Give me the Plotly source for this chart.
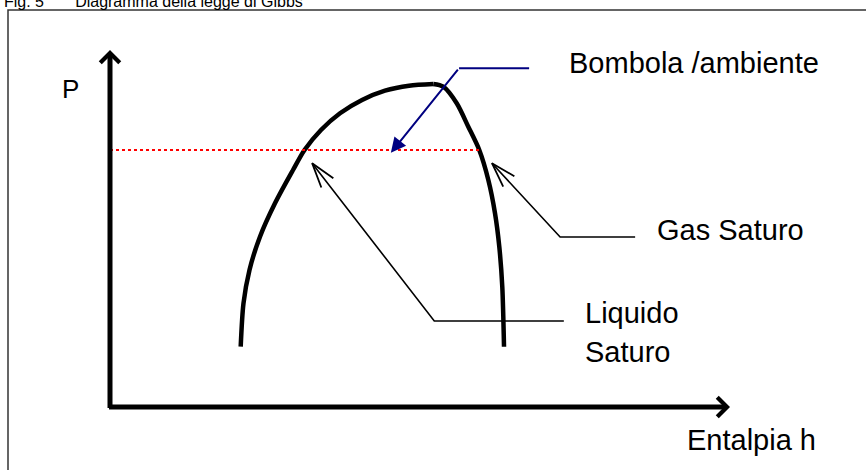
import math
import plotly.graph_objects as go

# ---- data (enthalpy h, pressure P, arbitrary units) ----
# saturated-liquid branch (up to the critical point)
liq_curve_h = [21.08, 21.53, 22.50, 24.19, 26.61, 29.52, 31.37, 34.03, 37.10, 40.65, 44.35, 48.23, 52.15]
liq_curve_p = [16.89, 29.05, 38.38, 47.70, 57.06, 66.39, 71.99, 77.59, 82.27, 86.00, 88.60, 90.00, 90.48]
# saturated-vapour branch (from the critical point)
gas_curve_h = [52.15, 53.76, 55.92, 57.79, 59.56, 61.02, 62.10, 62.79, 63.27, 63.55]
gas_curve_p = [90.48, 89.72, 85.07, 78.51, 71.99, 63.59, 54.26, 44.90, 33.70, 16.89]

tank_h = [0.0, 59.7]
tank_p = [72.0, 72.0]

axis_h_max = 100
axis_p_max = 100

# leader lines: [end, bend, tip]
bombola_h = [67.6, 56.3, 45.3]
bombola_p = [94.9, 94.9, 71.2]
gas_h = [84.7, 72.6, 61.6]
gas_p = [47.6, 47.6, 68.3]
liq_h = [73.2, 52.3, 32.6]
liq_p = [24.1, 24.1, 68.3]

labels = ["Bombola /ambiente", "Gas Saturo", "Liquido", "Saturo", "Entalpia h", "P"]
title_text = "Fig. 5" + "\u00a0" * 7 + "Diagramma della legge di Gibbs"

FONT = "Liberation Sans, Arial, sans-serif"
W, H = 866, 470
XR = [-17.742, 121.935]
YR = [-17.647, 114.006]
PX_H = W / (XR[1] - XR[0])
PX_P = H / (YR[1] - YR[0])


def chevron(tip_h, tip_p, from_h, from_p, arm_px=26, half_deg=17):
    """open arrow-head at the tip, pointing away from (from_h, from_p)"""
    dx = (from_h - tip_h) * PX_H
    dy = (from_p - tip_p) * PX_P
    n = math.hypot(dx, dy)
    ux, uy = dx / n, dy / n
    xs, ys = [], []
    for sgn in (1, -1):
        a = math.radians(half_deg) * sgn
        rx = ux * math.cos(a) - uy * math.sin(a)
        ry = ux * math.sin(a) + uy * math.cos(a)
        xs.append(tip_h + rx * arm_px / PX_H)
        ys.append(tip_p + ry * arm_px / PX_P)
    return [xs[0], tip_h, xs[1]], [ys[0], tip_p, ys[1]]


fig = go.Figure()

# saturation dome (two branches meeting at the critical point)
for hh, pp in [(liq_curve_h, liq_curve_p), (gas_curve_h, gas_curve_p)]:
    fig.add_trace(go.Scatter(x=hh, y=pp, mode="lines",
                             line=dict(color="black", width=4.5, shape="spline", smoothing=0.8),
                             hoverinfo="skip"))
# tank pressure line
fig.add_trace(go.Scatter(x=tank_h, y=tank_p, mode="lines",
                         line=dict(color="#ff0000", width=2, dash="dot"),
                         hoverinfo="skip"))
# blue leader: horizontal part
fig.add_trace(go.Scatter(x=bombola_h[:2], y=bombola_p[:2], mode="lines",
                         line=dict(color="#000080", width=2), hoverinfo="skip"))
# black leaders with open arrow heads
for hh, pp in [(gas_h, gas_p), (liq_h, liq_p)]:
    fig.add_trace(go.Scatter(x=hh, y=pp, mode="lines",
                             line=dict(color="black", width=1.6), hoverinfo="skip"))
    cx, cy = chevron(hh[2], pp[2], hh[1], pp[1])
    fig.add_trace(go.Scatter(x=cx, y=cy, mode="lines",
                             line=dict(color="black", width=1.8), hoverinfo="skip"))

ann = []
# axes arrows
ann.append(dict(x=0, y=axis_p_max, ax=0, ay=-0.7, xref="x", yref="y", axref="x", ayref="y",
                text="", showarrow=True, arrowhead=4, arrowwidth=5, arrowsize=0.75,
                arrowcolor="black", standoff=0))
ann.append(dict(x=axis_h_max, y=0, ax=-0.4, ay=0, xref="x", yref="y", axref="x", ayref="y",
                text="", showarrow=True, arrowhead=4, arrowwidth=5, arrowsize=0.75,
                arrowcolor="black", standoff=0))
# blue leader: diagonal part with arrow head
ann.append(dict(x=bombola_h[2], y=bombola_p[2], ax=bombola_h[1], ay=bombola_p[1],
                xref="x", yref="y", axref="x", ayref="y", text="", showarrow=True,
                arrowhead=2, arrowwidth=2, arrowsize=1.5, arrowcolor="#000080", standoff=0))

# text labels
txt_pos = [(73.7, 96.4, "left"), (87.9, 49.6, "left"), (76.3, 26.3, "left"),
           (76.3, 15.4, "left"), (92.7, -9.2, "left"), (-6.3, 89.1, "center")]
for (tx, ty, anc), lab in zip(txt_pos, labels):
    ann.append(dict(x=tx, y=ty, xref="x", yref="y", text=lab, showarrow=False,
                    xanchor=anc, yanchor="middle",
                    font=dict(family=FONT, size=29 if lab != "P" else 26, color="black")))
# figure caption, cut by the top edge of the page (as in the source)
ann.append(dict(x=2 / W, y=1 - 1.5 / H, xref="paper", yref="paper", text=title_text,
                showarrow=False, xanchor="left", yanchor="middle",
                font=dict(family=FONT, size=16, color="black")))

fig.update_layout(
    width=W, height=H,
    margin=dict(l=0, r=0, t=0, b=0),
    paper_bgcolor="white", plot_bgcolor="white",
    showlegend=False,
    annotations=ann,
    shapes=[dict(type="path", xref="paper", yref="paper",
                 path=f"M {8 / W},-0.1 L {8 / W},{1 - 10 / H} L 1.1,{1 - 10 / H}",
                 line=dict(color="#333333", width=1.5), layer="below")],
    xaxis=dict(range=XR, visible=False, fixedrange=True),
    yaxis=dict(range=YR, visible=False, fixedrange=True),
)

fig.write_html(
    "out.html", config={"displayModeBar": False},
    post_script=("document.documentElement.style.margin='0';"
                 "document.documentElement.style.overflow='hidden';"
                 "document.body.style.margin='0';document.body.style.overflow='hidden';"))
